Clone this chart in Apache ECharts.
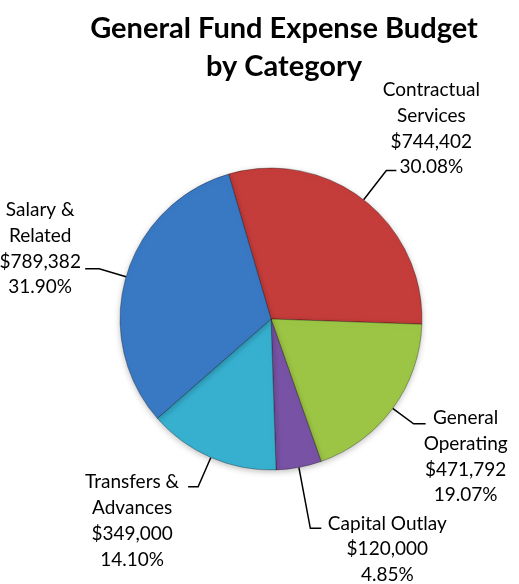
<!DOCTYPE html>
<html>
<head>
<meta charset="utf-8">
<script src="https://cdn.jsdelivr.net/npm/echarts@6/dist/echarts.min.js"></script>
<style>
html,body{margin:0;padding:0;background:#fff;}
#main{width:519px;height:584px;}
</style>
</head>
<body>
<div id="main"></div>
<script>
var categories = ['Contractual\nServices', 'General\nOperating', 'Capital Outlay', 'Transfers &\nAdvances', 'Salary &\nRelated'];
var amounts = [744402, 471792, 120000, 349000, 789382];
var percents = ['30.08%', '19.07%', '4.85%', '14.10%', '31.90%'];
var colors = ['#c53d3b', '#9dc545', '#7852a4', '#37b0d0', '#3978c3'];

// leader line lengths and where the text block sits relative to the line end
var lineLen = [37, 26, 62, 32, 28];
var lineLen2 = [10, 12, 11, 10, 14];
var textShift = [[35, -42], [40, 33], [66, 21], [-56, 34], [-45, -20]];

var dom = document.getElementById('main');
var myChart = echarts.init(dom);

function money(v) {
    return '$' + v.toString().replace(/\B(?=(\d{3})+(?!\d))/g, ',');
}

var data = [];
for (var i = 0; i < categories.length; i++) {
    data.push({
        name: categories[i],
        value: amounts[i],
        itemStyle: {color: colors[i]},
        labelLine: {length: lineLen[i], length2: lineLen2[i]}
    });
}

myChart.setOption({
    title: {
        text: 'General Fund Expense Budget\nby Category',
        left: 279,
        top: 5,
        textAlign: 'center',
        textStyle: {fontFamily: 'Lato', fontWeight: 'bold', fontSize: 29, lineHeight: 38, color: '#000'}
    },
    series: [{
        type: 'pie',
        center: [271, 319],
        radius: 151,
        startAngle: 106.3,
        clockwise: true,
        data: data,
        itemStyle: {borderColor: 'rgba(0,0,0,0.3)', borderWidth: 1, shadowBlur: 6, shadowColor: 'rgba(0,0,0,0.25)', shadowOffsetY: 2},
        label: {
            position: 'outside',
            fontFamily: 'Lato',
            fontSize: 19,
            lineHeight: 25.7,
            color: '#000',
            overflow: 'none',
            formatter: function (p) {
                return p.name + '\n' + money(p.value) + '\n' + percents[p.dataIndex];
            }
        },
        labelLine: {lineStyle: {color: '#000', width: 1.5}, smooth: false},
        labelLayout: function (p) {
            var pts = p.labelLinePoints;
            var end = pts[pts.length - 1];
            var s = textShift[p.dataIndex];
            return {
                x: end[0] + s[0],
                y: end[1] + s[1],
                align: 'center',
                verticalAlign: 'middle',
                labelLinePoints: pts
            };
        },
        emphasis: {disabled: true}
    }]
});
</script>
</body>
</html>
